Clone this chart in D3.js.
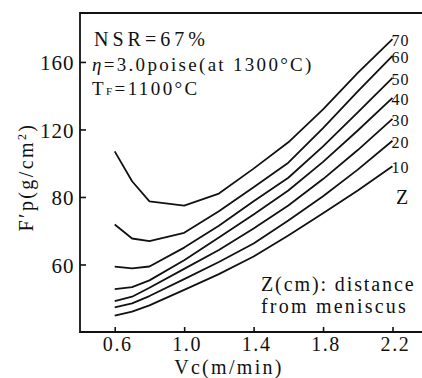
<!DOCTYPE html>
<html><head><meta charset="utf-8">
<script src="https://cdn.jsdelivr.net/npm/d3@7"></script>
<style>body{margin:0;background:#fff} svg{display:block}</style>
</head><body>
<svg id="c" width="422" height="378" font-family="serif"></svg>
<script>
// Casting speed Vc (m/min)
const xValues = [0.6, 0.7, 0.8, 1.0, 1.2, 1.4, 1.6, 1.8, 2.0, 2.2];
// F'p (g/cm^2) for each distance from meniscus Z (cm)
const z10 = [9.7, 12.1, 15.8, 25.0, 34.3, 44.7, 57.2, 70.3, 83.8, 98.2];
const z20 = [14.6, 17.0, 21.3, 31.3, 41.5, 52.4, 66.0, 80.4, 96.2, 113.3];
const z30 = [18.3, 20.9, 26.2, 37.4, 48.6, 61.3, 74.9, 90.6, 107.8, 126.3];
const z40 = [25.4, 26.6, 30.6, 42.5, 56.0, 69.6, 83.8, 100.8, 119.4, 138.7];
const z50 = [38.7, 37.7, 38.8, 50.0, 63.0, 77.5, 91.4, 110.0, 130.1, 150.6];
const z60 = [63.7, 55.4, 53.8, 58.8, 71.5, 85.8, 100.3, 120.8, 142.5, 163.6];
const z70 = [107.0, 89.3, 77.4, 74.9, 82.0, 96.8, 112.4, 131.9, 153.5, 173.5];
const zNames = ["10", "20", "30", "40", "50", "60", "70"];
const xTicks = [0.6, 1.0, 1.4, 1.8, 2.2];
const xTickLabels = ["0.6", "1.0", "1.4", "1.8", "2.2"];
const yTicks = [40, 80, 120, 160];
const yTickLabels = ["60", "80", "120", "160"];

const series = [z10, z20, z30, z40, z50, z60, z70].map((v, i) => ({name: zNames[i], values: v}));

const svg = d3.select("#c");
const x = d3.scaleLinear().domain([0.4, 2.37]).range([80, 422]);
const y = d3.scaleLinear().domain([0, 189]).range([332, 13]);
const ink = "#111";

// frame (left, top, bottom)
const frame = svg.append("g").attr("stroke", ink).attr("stroke-width", 1.8).attr("fill", "none");
frame.append("path").attr("d", `M${x.range()[1]},${y.range()[1]}H${x.range()[0]}V${y.range()[0]}H${x.range()[1]}`);

// axes with inward ticks
const xAxis = svg.append("g").attr("transform", `translate(0,${y.range()[0]})`)
  .call(d3.axisBottom(x).tickValues(xTicks).tickSizeInner(-5).tickSizeOuter(0)
    .tickFormat((d, i) => xTickLabels[i]));
xAxis.select(".domain").remove();
xAxis.selectAll("line").attr("stroke", ink).attr("stroke-width", 1.6);
xAxis.selectAll("text").attr("y", 0).attr("dy", null).attr("dx", 2.5)
  .attr("transform", "translate(0,18.5)")
  .style("font-size", "20px").style("letter-spacing", "1.6px");

const yAxis = svg.append("g").attr("transform", `translate(${x.range()[0]},0)`)
  .call(d3.axisLeft(y).tickValues(yTicks).tickSizeInner(-6).tickSizeOuter(0)
    .tickFormat((d, i) => yTickLabels[i]));
yAxis.select(".domain").remove();
yAxis.selectAll("line").attr("stroke", ink).attr("stroke-width", 1.6);
yAxis.selectAll("text").attr("x", -5.5).attr("dy", "8px")
  .style("font-size", "21px").style("letter-spacing", "1px");

// curves
const line = d3.line().x((d, i) => x(xValues[i])).y(d => y(d));
svg.append("g").selectAll("path").data(series).join("path")
  .attr("d", d => line(d.values))
  .attr("fill", "none").attr("stroke", ink).attr("stroke-width", 1.8)
  .attr("stroke-linejoin", "round");

// Z labels at line ends
svg.append("g").selectAll("text").data(series).join("text")
  .attr("x", d => x(xValues[xValues.length - 1]) - 1)
  .attr("y", d => y(d.values[d.values.length - 1]) + 7)
  .style("font-size", "16px").style("letter-spacing", "1px").text(d => d.name);
svg.append("text").attr("x", 396).attr("y", 204).style("font-size", "20px").text("Z");

// parameter block
svg.append("text").attr("x", 94).attr("y", 45.5).style("font-size", "20px")
  .style("letter-spacing", "4px").text("NSR=67%");
const t2 = svg.append("text").attr("x", 92).attr("y", 70.5).style("font-size", "19px")
  .style("letter-spacing", "2.3px");
t2.append("tspan").style("font-style", "italic").text("η");
t2.append("tspan").text("=3.0poise(at  1300°C)");
const t3 = svg.append("text").attr("x", 92).attr("y", 95).style("font-size", "19px")
  .style("letter-spacing", "2.4px");
t3.append("tspan").text("T");
t3.append("tspan").style("font-size", "11px").text("F");
t3.append("tspan").text("=1100°C");

// note
svg.append("text").attr("x", 261).attr("y", 291).style("font-size", "20px")
  .style("letter-spacing", "1.9px").text("Z(cm): distance");
svg.append("text").attr("x", 261).attr("y", 312.5).style("font-size", "20px")
  .style("letter-spacing", "2.2px").text("from meniscus");

// axis titles
svg.append("text").attr("x", 229).attr("y", 374).attr("text-anchor", "middle")
  .style("font-size", "20px").style("letter-spacing", "2.3px").text("Vc(m/min)");
const yt = svg.append("text").attr("transform", "translate(33,177) rotate(-90)")
  .attr("text-anchor", "middle").style("font-size", "20px").style("letter-spacing", "2.4px");
yt.append("tspan").text("F′p(g/cm");
yt.append("tspan").attr("dy", -7).style("font-size", "12px").text("2");
yt.append("tspan").attr("dy", 7).text(")");

// serif type everywhere
svg.selectAll("g").attr("font-family", null);
svg.selectAll("text").attr("font-family", "Liberation Serif, serif")
  .style("font-family", "'Liberation Serif', serif").attr("fill", ink);
</script>
</body></html>
